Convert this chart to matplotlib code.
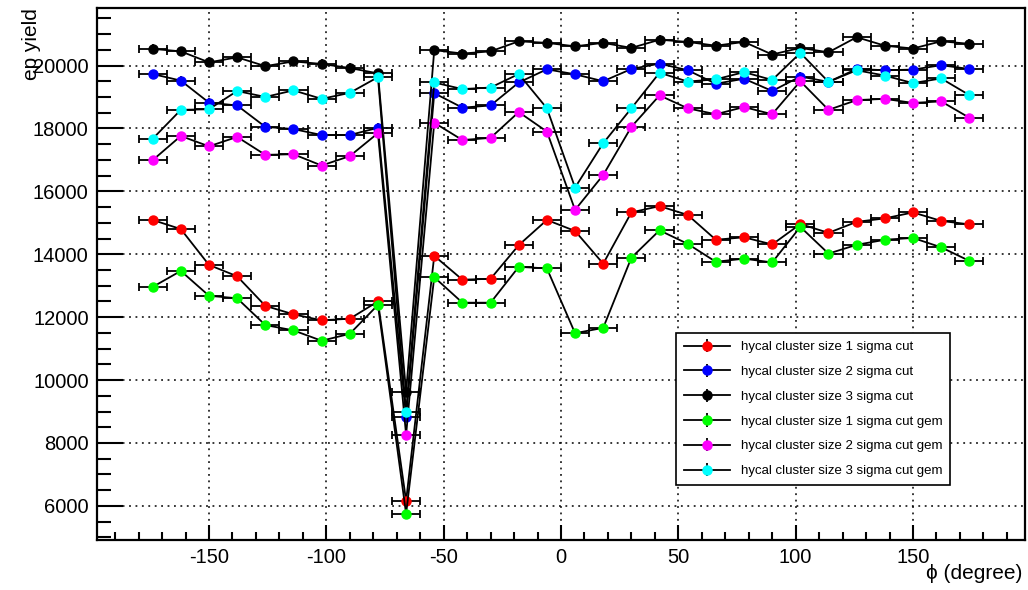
#ep yield vs phi for the hycal cluster size cuts, ROOT style
import matplotlib
matplotlib.use('Agg')
import matplotlib.pyplot as plt
import numpy as np

plt.rcParams['font.family'] = ['Liberation Sans', 'DejaVu Sans']
plt.rcParams['axes.unicode_minus'] = False

phi = [-174, -162, -150, -138, -126, -114, -102, -90, -78, -66,
       -54, -42, -30, -18, -6, 6, 18, 30, 42, 54,
       66, 78, 90, 102, 114, 126, 138, 150, 162, 174]
phi_err = 6

#1 sigma cut
sig1 = [15090, 14800, 13660, 13300, 12360, 12090, 11900, 11950, 12500, 6160,
        13950, 13190, 13220, 14290, 15090, 14740, 13700, 15330, 15530, 15250,
        14460, 14540, 14310, 14960, 14680, 15030, 15140, 15330, 15060, 14950]
#2 sigma cut
sig2 = [19730, 19520, 18820, 18730, 18050, 17980, 17790, 17790, 18020, 8830,
        19120, 18660, 18730, 19460, 19880, 19720, 19500, 19890, 20060, 19850,
        19420, 19580, 19190, 19650, 19480, 19890, 19850, 19870, 20010, 19890]
#3 sigma cut
sig3 = [20530, 20450, 20100, 20260, 19980, 20130, 20050, 19920, 19750, 9620,
        20490, 20380, 20450, 20770, 20720, 20610, 20720, 20560, 20820, 20750,
        20630, 20750, 20350, 20560, 20420, 20900, 20630, 20540, 20770, 20690]
#1 sigma cut gem
sig1_gem = [12960, 13470, 12680, 12600, 11750, 11580, 11250, 11470, 12390, 5750,
            13270, 12460, 12460, 13600, 13550, 11490, 11660, 13890, 14760, 14330,
            13760, 13860, 13740, 14870, 14020, 14300, 14460, 14520, 14220, 13790]
#2 sigma cut gem
sig2_gem = [16990, 17760, 17430, 17730, 17160, 17180, 16820, 17120, 17850, 8260,
            18180, 17630, 17700, 18520, 17900, 15410, 16520, 18050, 19050, 18640,
            18450, 18680, 18450, 19500, 18590, 18900, 18940, 18810, 18860, 18340]
#3 sigma cut gem
sig3_gem = [17670, 18590, 18610, 19190, 19000, 19210, 18940, 19130, 19630, 8990,
            19460, 19250, 19300, 19730, 18640, 16120, 17530, 18640, 19770, 19490,
            19560, 19790, 19540, 20400, 19480, 19850, 19680, 19440, 19590, 19060]

series = [sig1, sig2, sig3, sig1_gem, sig2_gem, sig3_gem]
yerrs = [120, 140, 145, 110, 130, 135]
colors = ['#ff0000', '#0000ff', '#000000', '#00ff00', '#ff00ff', '#00ffff']
labels = ['hycal cluster size 1 sigma cut',
          'hycal cluster size 2 sigma cut',
          'hycal cluster size 3 sigma cut',
          'hycal cluster size 1 sigma cut gem',
          'hycal cluster size 2 sigma cut gem',
          'hycal cluster size 3 sigma cut gem']

fig = plt.figure(figsize=(10.28, 5.90), dpi=100)
ax = fig.add_axes([0.0944, 0.0847, 0.9026, 0.9013])

handles = []
for y, ye, c, lab in zip(series, yerrs, colors, labels):
    #horizontal bin width bars
    ax.errorbar(phi, y, xerr=phi_err, fmt='none', ecolor='black',
                elinewidth=1.3, capsize=3, capthick=1.3, zorder=2)
    h = ax.errorbar(phi, y, yerr=ye, fmt='o-', color='black', lw=1.3,
                    ecolor='black', elinewidth=1.3, capsize=0,
                    mfc=c, mec=c, ms=6.5, label=lab, zorder=3)
    handles.append(h)

ax.set_xlim(-197.7, 197.7)
ax.set_ylim(4915, 21820)
ax.set_xticks(np.arange(-150, 151, 50))
ax.set_xticks(np.arange(-190, 191, 10), minor=True)
ax.set_yticks(np.arange(6000, 20001, 2000))
ax.set_yticks(np.arange(5000, 21801, 500), minor=True)

ax.grid(True, which='major', color='black', linestyle=(0, (1.2, 3)), linewidth=1.1)
ax.tick_params(axis='both', which='both', direction='in', labelsize=14.5, width=1.5,
               top=False, right=False)
ax.tick_params(axis='y', which='major', length=19, pad=6)
ax.tick_params(axis='y', which='minor', length=10)
ax.tick_params(axis='x', which='major', length=11, pad=6)
ax.tick_params(axis='x', which='minor', length=6)
for s in ax.spines.values():
    s.set_linewidth(1.6)

ax.set_ylabel('ep yield', fontsize=15, loc='top')
ax.yaxis.set_label_coords(-0.060, 1.0)
ax.set_xlabel('\u03d5 (degree)', fontsize=15, loc='right')
ax.xaxis.set_label_coords(0.997, -0.045)

leg = ax.legend(handles=handles, loc='upper left', bbox_to_anchor=(0.624, 0.389),
                fontsize=9.5, handlelength=3.5, handletextpad=0.8,
                labelspacing=0.95, borderpad=0.6, borderaxespad=0,
                fancybox=False, framealpha=1, edgecolor='black')
leg.get_frame().set_linewidth(1.2)

plt.savefig('out.png', dpi=100)
